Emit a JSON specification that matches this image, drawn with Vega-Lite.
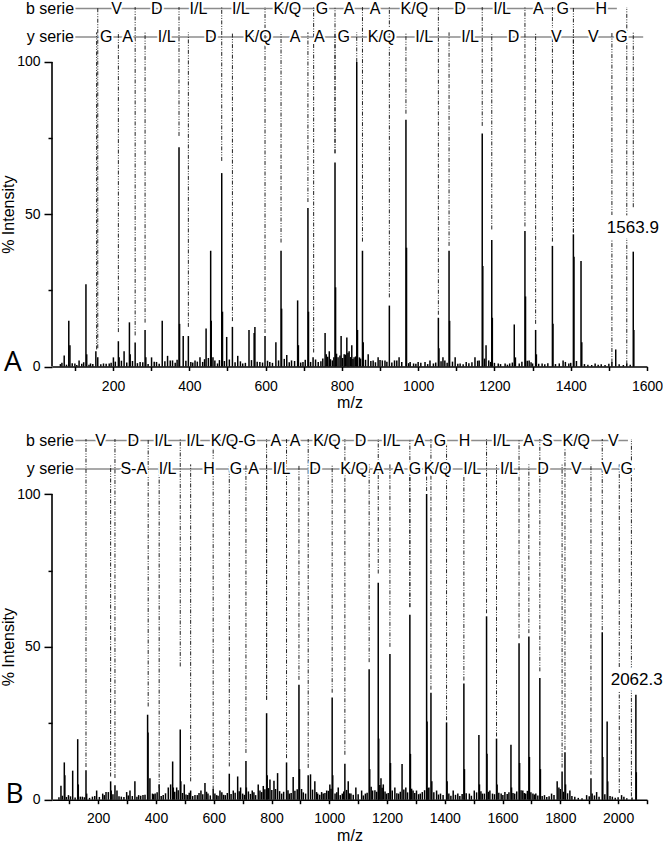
{
  "$schema": "https://vega.github.io/schema/vega-lite/v6.json",
  "background": "white",
  "padding": {"left": 0, "top": 0, "right": 0, "bottom": 0},
  "bounds": "flush",
  "spacing": 65.9,
  "config": {
    "view": {"stroke": null},
    "axis": {"labelFont": "Liberation Sans", "labelFontSize": 14, "titleFont": "Liberation Sans", "titleFontSize": 16, "titleFontWeight": "normal", "labelColor": "#000", "titleColor": "#000", "domainColor": "#000", "tickColor": "#000", "domainWidth": 1.6, "tickWidth": 1.5, "grid": false, "labelFlush": false, "labelOverlap": false},
    "text": {"font": "Liberation Sans"}
  },
  "datasets": {
    "peaksA": [
      {"mz":72,"i":3.6},{"mz":84,"i":15},{"mz":87,"i":7},{"mz":100,"i":1},{"mz":111,"i":2},{"mz":129,"i":27},{"mz":131,"i":4},{"mz":141,"i":1},{"mz":155,"i":5},{"mz":160,"i":3},{"mz":175,"i":1},{"mz":190,"i":1},{"mz":201,"i":3},{"mz":214,"i":8.3},{"mz":216,"i":3},{"mz":229,"i":5},{"mz":243,"i":14.5},{"mz":245,"i":4},{"mz":258,"i":7.9},{"mz":271,"i":1.5},{"mz":284,"i":12},{"mz":286,"i":3},{"mz":301,"i":3},{"mz":314,"i":1.5},{"mz":329,"i":15},{"mz":343,"i":3.5},{"mz":350,"i":2},{"mz":356,"i":2},{"mz":373,"i":72},{"mz":374.5,"i":14},{"mz":384,"i":10},{"mz":397.5,"i":10},{"mz":404,"i":1.5},{"mz":415,"i":2},{"mz":428,"i":3},{"mz":435,"i":1.5},{"mz":444,"i":12.5},{"mz":456,"i":38},{"mz":457.5,"i":15},{"mz":462,"i":3},{"mz":467,"i":2},{"mz":474,"i":1},{"mz":485,"i":63.5},{"mz":487,"i":18},{"mz":498,"i":9.7},{"mz":513,"i":13},{"mz":527,"i":3.5},{"mz":540,"i":1},{"mz":556.5,"i":12},{"mz":570,"i":11},{"mz":572,"i":13},{"mz":585,"i":1.5},{"mz":598.5,"i":10},{"mz":611,"i":1.5},{"mz":627,"i":8},{"mz":640.5,"i":38},{"mz":642,"i":19},{"mz":655.5,"i":3.8},{"mz":668,"i":2},{"mz":684,"i":21.7},{"mz":686,"i":7},{"mz":698,"i":1.5},{"mz":711,"i":52},{"mz":712.5,"i":18},{"mz":724.5,"i":3},{"mz":738,"i":1.5},{"mz":756,"i":11},{"mz":759,"i":4},{"mz":767,"i":5},{"mz":775,"i":2},{"mz":782,"i":67},{"mz":783.5,"i":26},{"mz":790,"i":3},{"mz":798,"i":10},{"mz":806,"i":4},{"mz":813,"i":9.5},{"mz":819,"i":5},{"mz":826,"i":7},{"mz":832,"i":3},{"mz":839,"i":100},{"mz":841,"i":12},{"mz":846,"i":3},{"mz":854,"i":38},{"mz":856,"i":8},{"mz":869,"i":4},{"mz":882,"i":2},{"mz":895,"i":3},{"mz":906,"i":2},{"mz":913,"i":2},{"mz":924.5,"i":20},{"mz":938,"i":2},{"mz":950,"i":3},{"mz":968,"i":81},{"mz":969.5,"i":39},{"mz":979,"i":1.5},{"mz":988,"i":1},{"mz":1000,"i":1.5},{"mz":1018,"i":1.5},{"mz":1031,"i":2},{"mz":1040,"i":1},{"mz":1053,"i":16},{"mz":1054.5,"i":6},{"mz":1065,"i":3},{"mz":1070,"i":2},{"mz":1081,"i":38},{"mz":1082.5,"i":15},{"mz":1097,"i":3},{"mz":1110,"i":1},{"mz":1126,"i":1.5},{"mz":1149,"i":3},{"mz":1160,"i":2},{"mz":1168,"i":76.5},{"mz":1169.5,"i":33},{"mz":1178,"i":7},{"mz":1185,"i":2},{"mz":1193,"i":41.5},{"mz":1194.5,"i":16},{"mz":1210,"i":1},{"mz":1228,"i":1},{"mz":1240,"i":1},{"mz":1252,"i":13.8},{"mz":1255,"i":3},{"mz":1280,"i":44.5},{"mz":1281.5,"i":23},{"mz":1291,"i":2},{"mz":1300,"i":1},{"mz":1308,"i":12},{"mz":1310,"i":4},{"mz":1325,"i":1},{"mz":1352,"i":39.6},{"mz":1353.5,"i":14},{"mz":1370,"i":1},{"mz":1380,"i":2},{"mz":1395,"i":1},{"mz":1407,"i":43.4},{"mz":1408.5,"i":36},{"mz":1427,"i":34.6},{"mz":1429,"i":8},{"mz":1464,"i":1},{"mz":1480,"i":0.7},{"mz":1508,"i":1.5},{"mz":1518,"i":5.6},{"mz":1547,"i":1},{"mz":1564,"i":37.7},{"mz":1565.5,"i":12},
      {"mz":62,"i":0.8},{"mz":66,"i":1.2},{"mz":78,"i":0.6},{"mz":93,"i":1.1},{"mz":105,"i":0.5},{"mz":118,"i":0.9},{"mz":123,"i":1.4},{"mz":137,"i":0.6},{"mz":147,"i":0.8},{"mz":168,"i":0.7},{"mz":182,"i":0.9},{"mz":195,"i":1.2},{"mz":206,"i":1.6},{"mz":222,"i":1.9},{"mz":236,"i":1.3},{"mz":251,"i":1.8},{"mz":264,"i":1.1},{"mz":278,"i":1.4},{"mz":292,"i":0.8},{"mz":308,"i":1.6},{"mz":321,"i":0.9},{"mz":336,"i":1.7},{"mz":363,"i":1.2},{"mz":368,"i":2.2},{"mz":391,"i":1.9},{"mz":409,"i":1.3},{"mz":421,"i":1.6},{"mz":440,"i":2.4},{"mz":450,"i":2.8},{"mz":479,"i":2.1},{"mz":492,"i":1.8},{"mz":505,"i":2.3},{"mz":520,"i":1.4},{"mz":534,"i":1.7},{"mz":547,"i":1.2},{"mz":563,"i":2.1},{"mz":578,"i":1.6},{"mz":592,"i":1.3},{"mz":605,"i":1.9},{"mz":618,"i":1.2},{"mz":634,"i":2.0},{"mz":649,"i":2.5},{"mz":662,"i":1.4},{"mz":676,"i":1.8},{"mz":692,"i":1.3},{"mz":704,"i":2.2},{"mz":718,"i":1.5},{"mz":731,"i":2.3},{"mz":745,"i":1.7},{"mz":750,"i":2.6},{"mz":763,"i":3.2},{"mz":770,"i":2.4},{"mz":779,"i":3.0},{"mz":786,"i":4.2},{"mz":795,"i":3.6},{"mz":802,"i":2.8},{"mz":809,"i":3.9},{"mz":816,"i":4.5},{"mz":823,"i":3.1},{"mz":829,"i":2.5},{"mz":836,"i":3.3},{"mz":849,"i":2.6},{"mz":862,"i":2.2},{"mz":876,"i":1.8},{"mz":888,"i":1.4},{"mz":900,"i":2.1},{"mz":918,"i":1.6},{"mz":931,"i":1.3},{"mz":944,"i":2.0},{"mz":957,"i":1.5},{"mz":975,"i":1.1},{"mz":994,"i":0.9},{"mz":1007,"i":1.2},{"mz":1025,"i":0.8},{"mz":1046,"i":1.3},{"mz":1060,"i":1.7},{"mz":1076,"i":1.2},{"mz":1090,"i":1.6},{"mz":1104,"i":0.9},{"mz":1118,"i":0.7},{"mz":1133,"i":1.1},{"mz":1141,"i":1.4},{"mz":1156,"i":1.9},{"mz":1174,"i":2.6},{"mz":1190,"i":1.5},{"mz":1200,"i":1.2},{"mz":1216,"i":0.8},{"mz":1234,"i":0.6},{"mz":1247,"i":1.3},{"mz":1265,"i":1.0},{"mz":1272,"i":1.6},{"mz":1286,"i":1.9},{"mz":1296,"i":1.4},{"mz":1316,"i":0.9},{"mz":1332,"i":0.7},{"mz":1340,"i":1.1},{"mz":1360,"i":0.8},{"mz":1386,"i":1.5},{"mz":1400,"i":1.2},{"mz":1415,"i":1.8},{"mz":1436,"i":0.8},{"mz":1445,"i":0.6},{"mz":1455,"i":0.5},{"mz":1472,"i":0.6},{"mz":1490,"i":0.5},{"mz":1500,"i":0.9},{"mz":1527,"i":0.7},{"mz":1538,"i":0.5},{"mz":1556,"i":0.6}
    ],
    "ionsA": [
      {"s":"b","mz":160,"end":6},{"s":"b","mz":258,"end":10.2},{"s":"b","mz":373,"end":75.7},{"s":"b","mz":485,"end":67.5},{"s":"b","mz":598.5,"end":11},{"s":"b","mz":726,"end":4.6},{"s":"b","mz":782,"end":70},{"s":"b","mz":854,"end":41},{"s":"b","mz":924.5,"end":22.7},{"s":"b","mz":1053,"end":17},{"s":"b","mz":1168,"end":79},{"s":"b","mz":1280,"end":46},{"s":"b","mz":1352,"end":41},{"s":"b","mz":1407,"end":44},{"s":"b","mz":1547,"end":0.7},
      {"s":"y","mz":157,"end":5.6},{"s":"y","mz":214,"end":11.3},{"s":"y","mz":284,"end":14.4},{"s":"y","mz":397.5,"end":13},{"s":"y","mz":513,"end":14.9},{"s":"y","mz":640.5,"end":40.7},{"s":"y","mz":711,"end":54},{"s":"y","mz":782,"end":70},{"s":"y","mz":839,"end":100},{"s":"y","mz":968,"end":83},{"s":"y","mz":1081,"end":39.6},{"s":"y","mz":1193,"end":45},{"s":"y","mz":1308,"end":14},{"s":"y","mz":1407,"end":44},{"s":"y","mz":1508,"end":1.3},{"s":"y","mz":1564,"end":52.3}
    ],
    "ladA": [
      {"s":"b","t":"b serie","mz":34.8},{"s":"b","t":"V","mz":209.6},{"s":"b","t":"D","mz":314.5},{"s":"b","t":"I/L","mz":424},{"s":"b","t":"I/L","mz":535},{"s":"b","t":"K/Q","mz":657},{"s":"b","t":"G","mz":748},{"s":"b","t":"A","mz":819},{"s":"b","t":"A","mz":887},{"s":"b","t":"K/Q","mz":990},{"s":"b","t":"D","mz":1110},{"s":"b","t":"I/L","mz":1220},{"s":"b","t":"A","mz":1315},{"s":"b","t":"G","mz":1379},{"s":"b","t":"H","mz":1480},
      {"s":"y","t":"y serie","mz":35.5},{"s":"y","t":"G","mz":182},{"s":"y","t":"A","mz":238},{"s":"y","t":"I/L","mz":340.6},{"s":"y","t":"D","mz":456},{"s":"y","t":"K/Q","mz":580},{"s":"y","t":"A","mz":677},{"s":"y","t":"A","mz":741},{"s":"y","t":"G","mz":805},{"s":"y","t":"K/Q","mz":904},{"s":"y","t":"I/L","mz":1016},{"s":"y","t":"I/L","mz":1136},{"s":"y","t":"D","mz":1250},{"s":"y","t":"V","mz":1362},{"s":"y","t":"V","mz":1459},{"s":"y","t":"G","mz":1533}
    ],
    "peaksB": [
      {"mz":71,"i":4.6},{"mz":82.6,"i":12.2},{"mz":84.5,"i":8},{"mz":97,"i":1.5},{"mz":111.6,"i":9.5},{"mz":129,"i":19.8},{"mz":131,"i":5},{"mz":145,"i":1},{"mz":157.7,"i":9.6},{"mz":160,"i":2},{"mz":180,"i":1},{"mz":194.6,"i":3},{"mz":215.5,"i":2},{"mz":227,"i":2.5},{"mz":235,"i":2.5},{"mz":243,"i":6},{"mz":245,"i":3},{"mz":258,"i":4.7},{"mz":265,"i":3},{"mz":280,"i":1},{"mz":298.5,"i":2.5},{"mz":310,"i":3},{"mz":327,"i":6},{"mz":340,"i":1.5},{"mz":355,"i":1.5},{"mz":371,"i":27.8},{"mz":372.5,"i":22},{"mz":379,"i":7},{"mz":388,"i":2},{"mz":397,"i":2},{"mz":411,"i":5},{"mz":425,"i":1.5},{"mz":442.6,"i":4},{"mz":450.7,"i":5},{"mz":457.7,"i":12.5},{"mz":460,"i":4},{"mz":471.6,"i":4},{"mz":484,"i":23},{"mz":486,"i":6},{"mz":498,"i":5},{"mz":510,"i":1.5},{"mz":520,"i":3},{"mz":535,"i":1.5},{"mz":555.7,"i":3},{"mz":569.6,"i":5.5},{"mz":580,"i":2},{"mz":598,"i":3.5},{"mz":610,"i":1.5},{"mz":621.5,"i":3},{"mz":640,"i":1.5},{"mz":653.8,"i":8.5},{"mz":667.6,"i":3},{"mz":682.8,"i":7.6},{"mz":693,"i":4},{"mz":711.5,"i":12.7},{"mz":713,"i":4},{"mz":733.3,"i":3},{"mz":745,"i":1.5},{"mz":754,"i":5},{"mz":771.5,"i":4.5},{"mz":783,"i":28.3},{"mz":785,"i":8},{"mz":794.6,"i":6.6},{"mz":808.5,"i":6.2},{"mz":821,"i":8.7},{"mz":835,"i":2},{"mz":852,"i":12.2},{"mz":862,"i":2},{"mz":875,"i":7.4},{"mz":895,"i":37.6},{"mz":897,"i":10},{"mz":904,"i":3.5},{"mz":927,"i":8},{"mz":935,"i":8.3},{"mz":950,"i":6},{"mz":960,"i":2},{"mz":973.5,"i":2.5},{"mz":979,"i":2},{"mz":991,"i":3},{"mz":1002,"i":5},{"mz":1010,"i":33.4},{"mz":1012,"i":8},{"mz":1020,"i":2},{"mz":1031,"i":4},{"mz":1045,"i":2},{"mz":1054,"i":11.8},{"mz":1065.6,"i":6},{"mz":1075,"i":2},{"mz":1092,"i":4},{"mz":1112,"i":3},{"mz":1125,"i":2},{"mz":1138,"i":42.7},{"mz":1140,"i":10},{"mz":1150,"i":3},{"mz":1169.5,"i":71},{"mz":1171,"i":20},{"mz":1179,"i":7},{"mz":1187,"i":5},{"mz":1198,"i":2},{"mz":1210,"i":47.7},{"mz":1212,"i":12},{"mz":1227,"i":4},{"mz":1240,"i":2},{"mz":1252,"i":11.7},{"mz":1265,"i":4},{"mz":1279,"i":60.5},{"mz":1281,"i":15},{"mz":1290,"i":3},{"mz":1302,"i":3},{"mz":1315,"i":2},{"mz":1337,"i":100},{"mz":1338.5,"i":25.6},{"mz":1345,"i":4},{"mz":1352,"i":35},{"mz":1355,"i":6},{"mz":1371.5,"i":3},{"mz":1385,"i":2},{"mz":1406,"i":25.3},{"mz":1408,"i":6},{"mz":1429,"i":3},{"mz":1445,"i":2},{"mz":1466,"i":38},{"mz":1468,"i":10},{"mz":1485,"i":2},{"mz":1502,"i":3},{"mz":1518,"i":21.2},{"mz":1520,"i":5},{"mz":1530,"i":2},{"mz":1544.5,"i":60},{"mz":1546,"i":15},{"mz":1556,"i":3},{"mz":1565,"i":2},{"mz":1579,"i":20},{"mz":1581,"i":5},{"mz":1595,"i":2},{"mz":1608,"i":2.5},{"mz":1629,"i":18},{"mz":1631,"i":4},{"mz":1642,"i":2},{"mz":1657,"i":51.2},{"mz":1659,"i":12},{"mz":1670,"i":3},{"mz":1680,"i":2},{"mz":1691,"i":53.4},{"mz":1693,"i":14},{"mz":1705,"i":2},{"mz":1715,"i":2},{"mz":1729,"i":39.8},{"mz":1731,"i":10},{"mz":1745,"i":1.5},{"mz":1769.6,"i":2},{"mz":1789,"i":6},{"mz":1795,"i":4},{"mz":1806,"i":9.2},{"mz":1816,"i":15.5},{"mz":1818,"i":5},{"mz":1833,"i":3},{"mz":1850,"i":1},{"mz":1891,"i":1.5},{"mz":1906,"i":7},{"mz":1910,"i":2},{"mz":1925.6,"i":2.5},{"mz":1945,"i":54.8},{"mz":1947,"i":14},{"mz":1962,"i":25.6},{"mz":1964,"i":6},{"mz":1980,"i":1},{"mz":2012,"i":1.5},{"mz":2020,"i":1},{"mz":2061.5,"i":34.3},{"mz":2063,"i":9},
      {"mz":64,"i":0.8},{"mz":76,"i":1.3},{"mz":90,"i":0.9},{"mz":104,"i":1.1},{"mz":120,"i":0.7},{"mz":138,"i":1.0},{"mz":152,"i":0.8},{"mz":170,"i":0.6},{"mz":188,"i":1.2},{"mz":204,"i":0.9},{"mz":221,"i":1.5},{"mz":251,"i":1.8},{"mz":272,"i":1.1},{"mz":289,"i":0.9},{"mz":304,"i":1.4},{"mz":318,"i":1.2},{"mz":334,"i":1.0},{"mz":347,"i":1.3},{"mz":362,"i":1.6},{"mz":392,"i":1.8},{"mz":404,"i":2.4},{"mz":418,"i":1.2},{"mz":433,"i":2.1},{"mz":465,"i":2.6},{"mz":477,"i":3.1},{"mz":492,"i":2.2},{"mz":504,"i":1.7},{"mz":515,"i":2.3},{"mz":527,"i":1.2},{"mz":543,"i":1.5},{"mz":549,"i":2.2},{"mz":562,"i":1.8},{"mz":575,"i":2.6},{"mz":588,"i":1.4},{"mz":604,"i":2.0},{"mz":615,"i":1.3},{"mz":628,"i":2.4},{"mz":634,"i":1.6},{"mz":647,"i":2.2},{"mz":660,"i":1.9},{"mz":674,"i":2.3},{"mz":688,"i":2.8},{"mz":700,"i":2.0},{"mz":706,"i":1.6},{"mz":720,"i":2.7},{"mz":727,"i":1.9},{"mz":739,"i":2.4},{"mz":760,"i":3.0},{"mz":766,"i":2.5},{"mz":777,"i":3.4},{"mz":789,"i":3.8},{"mz":801,"i":3.2},{"mz":814,"i":3.5},{"mz":828,"i":2.8},{"mz":842,"i":2.6},{"mz":857,"i":3.1},{"mz":868,"i":2.2},{"mz":881,"i":2.9},{"mz":889,"i":3.4},{"mz":910,"i":2.4},{"mz":918,"i":2.0},{"mz":942,"i":3.3},{"mz":956,"i":2.5},{"mz":967,"i":1.6},{"mz":985,"i":2.2},{"mz":997,"i":2.9},{"mz":1006,"i":3.6},{"mz":1026,"i":2.4},{"mz":1038,"i":1.5},{"mz":1050,"i":2.7},{"mz":1060,"i":3.2},{"mz":1070,"i":2.1},{"mz":1083,"i":1.6},{"mz":1100,"i":1.8},{"mz":1118,"i":1.4},{"mz":1131,"i":2.3},{"mz":1145,"i":4.2},{"mz":1158,"i":3.1},{"mz":1164,"i":2.6},{"mz":1175,"i":4.8},{"mz":1183,"i":3.9},{"mz":1193,"i":2.7},{"mz":1204,"i":2.2},{"mz":1218,"i":3.0},{"mz":1234,"i":2.1},{"mz":1246,"i":2.6},{"mz":1258,"i":3.3},{"mz":1271,"i":2.4},{"mz":1285,"i":3.6},{"mz":1296,"i":2.2},{"mz":1309,"i":1.8},{"mz":1322,"i":2.5},{"mz":1330,"i":3.1},{"mz":1342,"i":3.8},{"mz":1362,"i":2.4},{"mz":1378,"i":1.7},{"mz":1394,"i":1.5},{"mz":1414,"i":2.0},{"mz":1421,"i":1.3},{"mz":1437,"i":1.6},{"mz":1452,"i":1.2},{"mz":1460,"i":1.9},{"mz":1474,"i":2.1},{"mz":1492,"i":1.3},{"mz":1510,"i":2.4},{"mz":1525,"i":2.8},{"mz":1537,"i":2.0},{"mz":1551,"i":2.6},{"mz":1572,"i":1.8},{"mz":1587,"i":2.3},{"mz":1601,"i":1.5},{"mz":1616,"i":1.9},{"mz":1622,"i":2.4},{"mz":1636,"i":2.2},{"mz":1649,"i":2.7},{"mz":1664,"i":3.1},{"mz":1675,"i":2.2},{"mz":1686,"i":2.9},{"mz":1698,"i":2.4},{"mz":1710,"i":1.7},{"mz":1722,"i":1.4},{"mz":1737,"i":1.2},{"mz":1753,"i":0.9},{"mz":1761,"i":1.1},{"mz":1778,"i":1.5},{"mz":1800,"i":3.5},{"mz":1811,"i":2.6},{"mz":1825,"i":2.1},{"mz":1840,"i":1.2},{"mz":1862,"i":0.6},{"mz":1875,"i":0.5},{"mz":1900,"i":1.1},{"mz":1918,"i":1.4},{"mz":1934,"i":1.0},{"mz":1954,"i":1.8},{"mz":1972,"i":1.2},{"mz":1990,"i":0.6},{"mz":2000,"i":0.8},{"mz":2030,"i":0.5},{"mz":2048,"i":0.7}
    ],
    "ionsB": [
      {"s":"b","mz":157.7,"end":10.7},{"s":"b","mz":258,"end":7.1},{"s":"b","mz":373,"end":30.5},{"s":"b","mz":484,"end":43.6},{"s":"b","mz":598,"end":3.3},{"s":"b","mz":783,"end":32.7},{"s":"b","mz":852,"end":13.6},{"s":"b","mz":927,"end":10.4},{"s":"b","mz":1054,"end":14.7},{"s":"b","mz":1169.5,"end":74},{"s":"b","mz":1279,"end":63},{"s":"b","mz":1352,"end":36},{"s":"b","mz":1406,"end":26},{"s":"b","mz":1544.5,"end":61},{"s":"b","mz":1657,"end":52.8},{"s":"b","mz":1729,"end":42},{"s":"b","mz":1816,"end":16.3},{"s":"b","mz":1945,"end":55.5},{"s":"b","mz":2046,"end":1.1},
      {"s":"y","mz":243,"end":7.6},{"s":"y","mz":411,"end":3.8},{"s":"y","mz":520,"end":6},{"s":"y","mz":653.8,"end":10.9},{"s":"y","mz":711.5,"end":15.3},{"s":"y","mz":783,"end":32.7},{"s":"y","mz":895,"end":39.2},{"s":"y","mz":1010,"end":35},{"s":"y","mz":1138,"end":45},{"s":"y","mz":1210,"end":50},{"s":"y","mz":1279,"end":63},{"s":"y","mz":1337,"end":101},{"s":"y","mz":1466,"end":39},{"s":"y","mz":1579,"end":20.7},{"s":"y","mz":1691,"end":54.5},{"s":"y","mz":1806,"end":10.5},{"s":"y","mz":1906,"end":8.2},{"s":"y","mz":2004,"end":2.2}
    ],
    "ladB": [
      {"s":"b","t":"b serie","mz":33},{"s":"b","t":"V","mz":208.6},{"s":"b","t":"D","mz":321},{"s":"b","t":"I/L","mz":425},{"s":"b","t":"I/L","mz":536},{"s":"b","t":"K/Q-G","mz":668},{"s":"b","t":"A","mz":815},{"s":"b","t":"A","mz":882},{"s":"b","t":"K/Q","mz":992},{"s":"b","t":"D","mz":1108},{"s":"b","t":"I/L","mz":1215},{"s":"b","t":"A","mz":1312},{"s":"b","t":"G","mz":1383},{"s":"b","t":"H","mz":1468},{"s":"b","t":"I/L","mz":1596},{"s":"b","t":"A","mz":1690},{"s":"b","t":"S","mz":1755},{"s":"b","t":"K/Q","mz":1855},{"s":"b","t":"V","mz":1983},
      {"s":"y","t":"y serie","mz":34},{"s":"y","t":"S-A","mz":323},{"s":"y","t":"I/L","mz":440},{"s":"y","t":"H","mz":584},{"s":"y","t":"G","mz":677},{"s":"y","t":"A","mz":738},{"s":"y","t":"I/L","mz":835},{"s":"y","t":"D","mz":951},{"s":"y","t":"K/Q","mz":1086},{"s":"y","t":"A","mz":1170},{"s":"y","t":"A","mz":1240},{"s":"y","t":"G","mz":1297},{"s":"y","t":"K/Q","mz":1375},{"s":"y","t":"I/L","mz":1495},{"s":"y","t":"I/L","mz":1622},{"s":"y","t":"D","mz":1740},{"s":"y","t":"V","mz":1855},{"s":"y","t":"V","mz":1960},{"s":"y","t":"G","mz":2030}
    ]
  },
  "vconcat": [
    {
      "width": 595,
      "height": 365.5,
      "resolve": {"axis": {"x": "independent", "y": "independent"}},
      "layer": [
        {
          "data": {"name": "peaksA"},
          "mark": {"type": "rule", "color": "#000", "strokeWidth": 1.5},
          "encoding": {
            "x": {"field": "mz", "type": "quantitative", "scale": {"domain": [40, 1600], "nice": false, "zero": false},
              "axis": {"title": "m/z", "orient": "bottom", "values": [100,200,300,400,500,600,700,800,900,1000,1100,1200,1300,1400,1500,1600], "labelExpr": "datum.value % 200 === 0 ? '' + datum.value : ''", "tickSize": 4, "labelPadding": 8.5, "titleX": 297.5, "titleY": 35.5, "titleBaseline": "middle"}},
            "y": {"field": "i", "type": "quantitative", "scale": {"domain": [0, 120], "nice": false, "zero": false},
              "axis": {"title": "% Intensity", "orient": "left", "values": [0,50,100], "domain": false, "tickSize": 8, "labelPadding": 4, "titleX": -44, "titleY": 213.2, "titleBaseline": "middle", "titleAngle": -90}},
            "y2": {"datum": 0}
          }
        },
        {
          "data": {"values": [{}]},
          "mark": {"type": "rule", "color": "#000", "strokeWidth": 1.6},
          "encoding": {"x": {"datum": 40, "axis": null}, "y": {"datum": 0, "axis": null}, "y2": {"datum": 100}}
        },
        {
          "data": {"values": [{}]},
          "mark": {"type": "rule", "color": "#8c8c8c", "strokeWidth": 1.5},
          "encoding": {"x": {"datum": 100.3, "axis": null}, "x2": {"datum": 1521}, "y": {"datum": 117.5, "axis": null}}
        },
        {
          "data": {"values": [{}]},
          "mark": {"type": "rule", "color": "#8c8c8c", "strokeWidth": 1.5},
          "encoding": {"x": {"datum": 100.3, "axis": null}, "x2": {"datum": 1590}, "y": {"datum": 108.2, "axis": null}}
        },
        {
          "data": {"name": "ionsA"},
          "transform": [{"filter": "datum.s === 'b'"}],
          "mark": {"type": "rule", "color": "#222", "strokeWidth": 1, "strokeDash": [4, 1.5, 1, 1.5, 1, 1.5]},
          "encoding": {"x": {"field": "mz", "type": "quantitative", "axis": null},
            "y": {"field": "end", "type": "quantitative", "axis": {"orient": "left", "values": [25, 75], "labels": false, "domain": false, "title": null, "tickSize": 4}},
            "y2": {"datum": 118}}
        },
        {
          "data": {"name": "ionsA"},
          "transform": [{"filter": "datum.s === 'y'"}],
          "mark": {"type": "rule", "color": "#222", "strokeWidth": 1, "strokeDash": [4, 1.5, 1, 1.5, 1, 1.5]},
          "encoding": {"x": {"field": "mz", "type": "quantitative", "axis": null}, "y": {"field": "end", "type": "quantitative", "axis": null}, "y2": {"datum": 109.7}}
        },
        {
          "data": {"name": "ladA"},
          "transform": [{"filter": "datum.s === 'b'"}],
          "mark": {"type": "text", "fontSize": 16, "baseline": "middle", "color": "white", "stroke": "white", "strokeWidth": 4, "strokeJoin": "round"},
          "encoding": {"x": {"field": "mz", "type": "quantitative", "axis": null}, "y": {"datum": 117.5, "axis": null}, "text": {"field": "t"}}
        },
        {
          "data": {"name": "ladA"},
          "transform": [{"filter": "datum.s === 'b'"}],
          "mark": {"type": "text", "fontSize": 16, "baseline": "middle", "color": "#000"},
          "encoding": {"x": {"field": "mz", "type": "quantitative", "axis": null}, "y": {"datum": 117.5, "axis": null}, "text": {"field": "t"}}
        },
        {
          "data": {"name": "ladA"},
          "transform": [{"filter": "datum.s === 'y'"}],
          "mark": {"type": "text", "fontSize": 16, "baseline": "middle", "color": "white", "stroke": "white", "strokeWidth": 4, "strokeJoin": "round"},
          "encoding": {"x": {"field": "mz", "type": "quantitative", "axis": null}, "y": {"datum": 108.2, "axis": null}, "text": {"field": "t"}}
        },
        {
          "data": {"name": "ladA"},
          "transform": [{"filter": "datum.s === 'y'"}],
          "mark": {"type": "text", "fontSize": 16, "baseline": "middle", "color": "#000"},
          "encoding": {"x": {"field": "mz", "type": "quantitative", "axis": null}, "y": {"datum": 108.2, "axis": null}, "text": {"field": "t"}}
        },
        {
          "data": {"values": [{}]},
          "mark": {"type": "text", "fontSize": 17, "baseline": "middle", "color": "white", "stroke": "white", "strokeWidth": 12, "strokeJoin": "round", "text": "1563.9"},
          "encoding": {"x": {"datum": 1562.9, "axis": null}, "y": {"datum": 45.6, "axis": null}}
        },
        {
          "data": {"values": [{}]},
          "mark": {"type": "text", "fontSize": 17, "baseline": "middle", "color": "#000", "text": "1563.9"},
          "encoding": {"x": {"datum": 1562.9, "axis": null}, "y": {"datum": 45.6, "axis": null}}
        },
        {
          "data": {"values": [{}]},
          "mark": {"type": "text", "font": "Open Sans", "fontSize": 28, "baseline": "alphabetic", "align": "center", "color": "#000", "text": "A"},
          "encoding": {"x": {"datum": -62.3, "axis": null}, "y": {"datum": -1.5, "axis": null}}
        }
      ]
    },
    {
      "width": 595,
      "height": 366.8,
      "resolve": {"axis": {"x": "independent", "y": "independent"}},
      "layer": [
        {
          "data": {"name": "peaksB"},
          "mark": {"type": "rule", "color": "#000", "strokeWidth": 1.5},
          "encoding": {
            "x": {"field": "mz", "type": "quantitative", "scale": {"domain": [40, 2100], "nice": false, "zero": false},
              "axis": {"title": "m/z", "orient": "bottom", "values": [100,200,300,400,500,600,700,800,900,1000,1100,1200,1300,1400,1500,1600,1700,1800,1900,2000,2100], "labelExpr": "datum.value % 200 === 0 ? '' + datum.value : ''", "tickSize": 4, "labelPadding": 8, "titleX": 297.5, "titleY": 36, "titleBaseline": "middle"}},
            "y": {"field": "i", "type": "quantitative", "scale": {"domain": [0, 120], "nice": false, "zero": false},
              "axis": {"title": "% Intensity", "orient": "left", "values": [0,50,100], "domain": false, "tickSize": 8, "labelPadding": 4, "titleX": -44, "titleY": 213.8, "titleBaseline": "middle", "titleAngle": -90}},
            "y2": {"datum": 0}
          }
        },
        {
          "data": {"values": [{}]},
          "mark": {"type": "rule", "color": "#000", "strokeWidth": 1.6},
          "encoding": {"x": {"datum": 40, "axis": null}, "y": {"datum": 0, "axis": null}, "y2": {"datum": 100}}
        },
        {
          "data": {"values": [{}]},
          "mark": {"type": "rule", "color": "#8c8c8c", "strokeWidth": 1.5},
          "encoding": {"x": {"datum": 119.6, "axis": null}, "x2": {"datum": 2034}, "y": {"datum": 117.5, "axis": null}}
        },
        {
          "data": {"values": [{}]},
          "mark": {"type": "rule", "color": "#8c8c8c", "strokeWidth": 1.5},
          "encoding": {"x": {"datum": 119.6, "axis": null}, "x2": {"datum": 2058}, "y": {"datum": 108.2, "axis": null}}
        },
        {
          "data": {"name": "ionsB"},
          "transform": [{"filter": "datum.s === 'b'"}],
          "mark": {"type": "rule", "color": "#222", "strokeWidth": 1, "strokeDash": [4, 1.5, 1, 1.5, 1, 1.5]},
          "encoding": {"x": {"field": "mz", "type": "quantitative", "axis": null},
            "y": {"field": "end", "type": "quantitative", "axis": {"orient": "left", "values": [25, 75], "labels": false, "domain": false, "title": null, "tickSize": 4}},
            "y2": {"datum": 118}}
        },
        {
          "data": {"name": "ionsB"},
          "transform": [{"filter": "datum.s === 'y'"}],
          "mark": {"type": "rule", "color": "#222", "strokeWidth": 1, "strokeDash": [4, 1.5, 1, 1.5, 1, 1.5]},
          "encoding": {"x": {"field": "mz", "type": "quantitative", "axis": null}, "y": {"field": "end", "type": "quantitative", "axis": null}, "y2": {"datum": 109.7}}
        },
        {
          "data": {"name": "ladB"},
          "transform": [{"filter": "datum.s === 'b'"}],
          "mark": {"type": "text", "fontSize": 16, "baseline": "middle", "color": "white", "stroke": "white", "strokeWidth": 4, "strokeJoin": "round"},
          "encoding": {"x": {"field": "mz", "type": "quantitative", "axis": null}, "y": {"datum": 117.5, "axis": null}, "text": {"field": "t"}}
        },
        {
          "data": {"name": "ladB"},
          "transform": [{"filter": "datum.s === 'b'"}],
          "mark": {"type": "text", "fontSize": 16, "baseline": "middle", "color": "#000"},
          "encoding": {"x": {"field": "mz", "type": "quantitative", "axis": null}, "y": {"datum": 117.5, "axis": null}, "text": {"field": "t"}}
        },
        {
          "data": {"name": "ladB"},
          "transform": [{"filter": "datum.s === 'y'"}],
          "mark": {"type": "text", "fontSize": 16, "baseline": "middle", "color": "white", "stroke": "white", "strokeWidth": 4, "strokeJoin": "round"},
          "encoding": {"x": {"field": "mz", "type": "quantitative", "axis": null}, "y": {"datum": 108.2, "axis": null}, "text": {"field": "t"}}
        },
        {
          "data": {"name": "ladB"},
          "transform": [{"filter": "datum.s === 'y'"}],
          "mark": {"type": "text", "fontSize": 16, "baseline": "middle", "color": "#000"},
          "encoding": {"x": {"field": "mz", "type": "quantitative", "axis": null}, "y": {"datum": 108.2, "axis": null}, "text": {"field": "t"}}
        },
        {
          "data": {"values": [{}]},
          "mark": {"type": "text", "fontSize": 17, "baseline": "middle", "color": "white", "stroke": "white", "strokeWidth": 12, "strokeJoin": "round", "text": "2062.3"},
          "encoding": {"x": {"datum": 2064.3, "axis": null}, "y": {"datum": 39, "axis": null}}
        },
        {
          "data": {"values": [{}]},
          "mark": {"type": "text", "fontSize": 17, "baseline": "middle", "color": "#000", "text": "2062.3"},
          "encoding": {"x": {"datum": 2064.3, "axis": null}, "y": {"datum": 39, "axis": null}}
        },
        {
          "data": {"values": [{}]},
          "mark": {"type": "text", "font": "Open Sans", "fontSize": 28, "baseline": "alphabetic", "align": "center", "color": "#000", "text": "B"},
          "encoding": {"x": {"datum": -89.8, "axis": null}, "y": {"datum": -1.1, "axis": null}}
        }
      ]
    }
  ]
}
